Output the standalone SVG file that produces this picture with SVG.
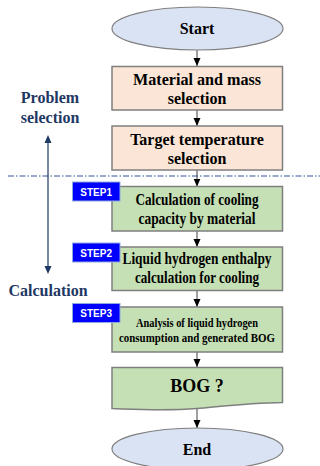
<svg xmlns="http://www.w3.org/2000/svg" width="320" height="466" viewBox="0 0 320 466">
<style>
text{font-family:"Liberation Serif","DejaVu Serif","Times New Roman",serif;font-weight:bold}
.t{font-size:16px;fill:#000;text-anchor:middle}
.s{font-size:12px;fill:#000;text-anchor:middle}
.lbl{font-size:16px;fill:#1f3864;text-anchor:middle}
.step{font-family:"Liberation Sans",Arial,sans-serif;font-size:10px;fill:#fff;text-anchor:middle}
.peach{fill:#fbe5d6;stroke:#7f7f7f;stroke-width:1.5}
.green{fill:#c5e0b4;stroke:#7f7f7f;stroke-width:1.5}
.oval{fill:#dae3f3;stroke:#7f7f7f;stroke-width:1.2}
.stepbox{fill:#0000ff;stroke:#8faadc;stroke-width:1}
.conn{stroke:#7f7f7f;stroke-width:1.5;fill:none;marker-end:url(#ah)}
</style>
<defs>
<marker id="ah" markerUnits="userSpaceOnUse" markerWidth="8" markerHeight="8" viewBox="0 0 8 8" refX="8" refY="4" orient="auto">
<path d="M0,0.5 L8,4 L0,7.5 Z" fill="#000"/>
</marker>
</defs>

<g id="connectors">
<line class="conn" x1="197" y1="50" x2="197" y2="66"/>
<line class="conn" x1="197" y1="110" x2="197" y2="126"/>
<line class="conn" x1="197" y1="170" x2="197" y2="186.5"/>
<line class="conn" x1="197" y1="231" x2="197" y2="247"/>
<line class="conn" x1="197" y1="290.5" x2="197" y2="307"/>
<line class="conn" x1="197" y1="352" x2="197" y2="367"/>
<line class="conn" x1="197" y1="408" x2="197" y2="428"/>
</g>

<g id="divider">
<line x1="8" y1="176" x2="320" y2="176" stroke="#2f5597" stroke-width="1" stroke-dasharray="6,2,1.5,2"/>
</g>

<g id="phase-arrow">
<line x1="48" y1="143" x2="48" y2="266" stroke="#1f3864" stroke-width="1.2"/>
<path d="M48,135 L44.5,143 L51.5,143 Z" fill="#1f3864"/>
<path d="M48,274 L44.5,266 L51.5,266 Z" fill="#1f3864"/>
</g>

<g id="label-problem">
<text class="lbl" x="50" y="103" font-family="Liberation Serif, serif">Problem</text>
<text class="lbl" x="50" y="123">selection</text>
</g>
<g id="label-calculation">
<text class="lbl" x="48" y="296">Calculation</text>
</g>

<g id="start">
<ellipse class="oval" cx="197.5" cy="28.5" rx="85.5" ry="21.5"/>
<text class="t" x="197" y="34">Start</text>
</g>

<g id="material">
<rect class="peach" x="112" y="66.5" width="170.5" height="43.5"/>
<text class="t" x="197" y="85" textLength="128" lengthAdjust="spacingAndGlyphs">Material and mass</text>
<text class="t" x="197" y="104">selection</text>
</g>

<g id="target">
<rect class="peach" x="112" y="126" width="170.5" height="44"/>
<text class="t" x="197" y="145">Target temperature</text>
<text class="t" x="197" y="164">selection</text>
</g>

<g id="step1">
<rect class="green" x="112" y="186.5" width="170.5" height="44.5"/>
<text class="t" x="197" y="205" textLength="123" lengthAdjust="spacingAndGlyphs">Calculation of cooling</text>
<text class="t" x="197" y="223.5" textLength="117" lengthAdjust="spacingAndGlyphs">capacity by material</text>
<rect class="stepbox" x="72.5" y="182" width="47.5" height="19"/>
<text class="step" x="96.2" y="195.5">STEP1</text>
</g>

<g id="step2">
<rect class="green" x="112" y="247" width="170.5" height="43.5"/>
<text class="t" x="197" y="264" textLength="149" lengthAdjust="spacingAndGlyphs">Liquid hydrogen enthalpy</text>
<text class="t" x="197" y="283" textLength="124" lengthAdjust="spacingAndGlyphs">calculation for cooling</text>
<rect class="stepbox" x="72.5" y="243" width="47.5" height="19"/>
<text class="step" x="96.2" y="256.5">STEP2</text>
</g>

<g id="step3">
<rect class="green" x="112" y="307" width="170.5" height="45"/>
<text class="s" x="197" y="327" textLength="122" lengthAdjust="spacingAndGlyphs">Analysis of liquid hydrogen</text>
<text class="s" x="197" y="342" textLength="156" lengthAdjust="spacingAndGlyphs">consumption and generated BOG</text>
<rect class="stepbox" x="72.5" y="303.5" width="47.5" height="19"/>
<text class="step" x="96.2" y="317">STEP3</text>
</g>

<g id="bog">
<path class="green" d="M112,367.5 L282.5,367.5 L282.5,402.5 C250,403 225,406 197,408.5 C165,411 140,409.5 112,408.5 Z"/>
<text class="t" x="197" y="392" style="font-size:18px">BOG ?</text>
</g>

<g id="end">
<ellipse class="oval" cx="197.5" cy="449" rx="85.5" ry="21"/>
<text class="t" x="197" y="455">End</text>
</g>
</svg>
